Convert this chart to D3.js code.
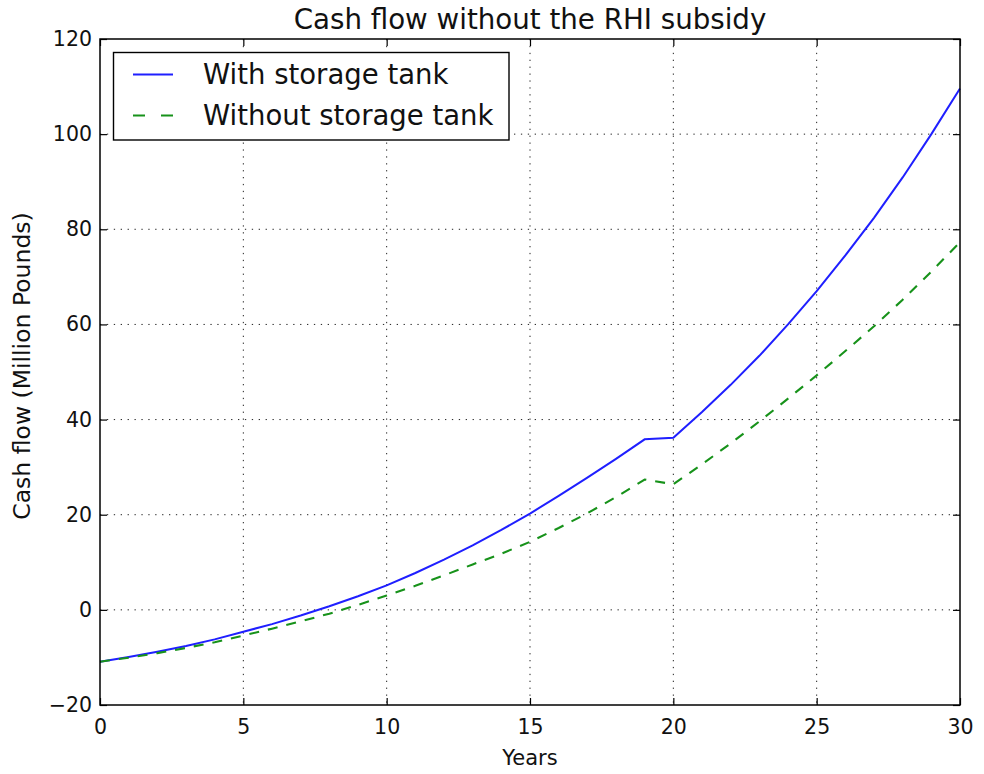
<!DOCTYPE html>
<html>
<head>
<meta charset="utf-8">
<script src="https://cdn.jsdelivr.net/npm/d3@7"></script>
<style>
  html, body { margin: 0; padding: 0; background: #fff; }
  svg { display: block; font-family: "DejaVu Sans", sans-serif; }
</style>
</head>
<body>
<svg id="chart" width="984" height="774"></svg>
<script>
// Cumulative cash flow over the project lifetime (million pounds)
const years = [0, 1, 2, 3, 4, 5, 6, 7, 8, 9, 10, 11, 12, 13, 14, 15,
               16, 17, 18, 19, 20, 21, 22, 23, 24, 25, 26, 27, 28, 29, 30];
const withTank = [-10.9, -9.9, -8.8, -7.6, -6.2, -4.6, -3.0, -1.2, 0.75, 2.85,
                  5.15, 7.75, 10.55, 13.55, 16.8, 20.25, 23.95, 27.8, 31.75, 35.85,
                  36.2, 41.6, 47.3, 53.4, 60.0, 67.0, 74.5, 82.4, 90.9, 100.0, 109.6];
const withoutTank = [-10.9, -10.05, -9.1, -8.0, -6.8, -5.4, -3.95, -2.4, -0.8, 1.05,
                     3.0, 5.05, 7.25, 9.55, 11.8, 14.3, 17.2, 20.3, 23.7, 27.4,
                     26.4, 30.6, 35.0, 39.6, 44.4, 49.3, 54.4, 59.6, 65.2, 71.1, 77.3];
const xTicks = [0, 5, 10, 15, 20, 25, 30];
const yTicks = [-20, 0, 20, 40, 60, 80, 100, 120];
const seriesNames = ["With storage tank", "Without storage tank"];

const svg = d3.select("#chart");
const m = { left: 100, right: 960, top: 39, bottom: 705 };

const x = d3.scaleLinear().domain([0, 30]).range([m.left, m.right]);
const y = d3.scaleLinear().domain([-20, 120]).range([m.bottom, m.top]);

// dotted grid
const grid = svg.append("g").attr("stroke", "#222").attr("stroke-width", 1)
  .attr("stroke-dasharray", "1.3,5.6");
grid.selectAll(".gx").data(xTicks.slice(1, -1)).join("line")
  .attr("x1", d => x(d)).attr("x2", d => x(d))
  .attr("y1", m.top).attr("y2", m.bottom);
grid.selectAll(".gy").data(yTicks.slice(1, -1)).join("line")
  .attr("x1", m.left).attr("x2", m.right)
  .attr("y1", d => y(d)).attr("y2", d => y(d));

// series lines
const blue = "#1f1fff", green = "#17921a";
const line = (vals) => d3.line().x((d, i) => x(years[i])).y(d => y(d))(vals);
svg.append("path").attr("d", line(withTank))
  .attr("fill", "none").attr("stroke", blue).attr("stroke-width", 2);
svg.append("path").attr("d", line(withoutTank))
  .attr("fill", "none").attr("stroke", green).attr("stroke-width", 2.1)
  .attr("stroke-dasharray", "10,9");

// axes with inward ticks on all four sides
const tickLen = 7;
const fmt = d3.format("d");
const axB = svg.append("g").attr("transform", `translate(0,${m.bottom})`)
  .call(d3.axisBottom(x).tickValues(xTicks).tickFormat(fmt).tickSizeInner(-tickLen).tickSizeOuter(0).tickPadding(14));
const axT = svg.append("g").attr("transform", `translate(0,${m.top})`)
  .call(d3.axisTop(x).tickValues(xTicks).tickFormat("").tickSizeInner(-tickLen).tickSizeOuter(0));
const axL = svg.append("g").attr("transform", `translate(${m.left},0)`)
  .call(d3.axisLeft(y).tickValues(yTicks).tickFormat(fmt).tickSizeInner(-tickLen).tickSizeOuter(0).tickPadding(8));
const axR = svg.append("g").attr("transform", `translate(${m.right},0)`)
  .call(d3.axisRight(y).tickValues(yTicks).tickFormat("").tickSizeInner(-tickLen).tickSizeOuter(0));
[axB, axT, axL, axR].forEach(a => {
  a.select(".domain").remove();
  a.selectAll(".tick line").attr("stroke", "#000").attr("stroke-width", 1.2);
  a.selectAll("text").attr("font-size", 20.5).attr("fill", "#111")
    .attr("font-family", "DejaVu Sans, sans-serif");
});
axB.selectAll("text").attr("dy", "0.71em");

// frame
svg.append("rect").attr("x", m.left).attr("y", m.top)
  .attr("width", m.right - m.left).attr("height", m.bottom - m.top)
  .attr("fill", "none").attr("stroke", "#000").attr("stroke-width", 1.5);

// title and axis labels
svg.append("text").attr("x", (m.left + m.right) / 2).attr("y", 29)
  .attr("text-anchor", "middle").attr("font-size", 27.7).attr("fill", "#111")
  .text("Cash flow without the RHI subsidy");
svg.append("text").attr("x", (m.left + m.right) / 2).attr("y", 765)
  .attr("text-anchor", "middle").attr("font-size", 21).attr("fill", "#111")
  .text("Years");
svg.append("text").attr("transform", `translate(30,${(m.top + m.bottom) / 2 - 6}) rotate(-90)`)
  .attr("text-anchor", "middle").attr("font-size", 23.5).attr("fill", "#111")
  .text("Cash flow (Million Pounds)");

// legend
const lg = svg.append("g");
lg.append("rect").attr("x", 113.5).attr("y", 52.5).attr("width", 395.5).attr("height", 87.5)
  .attr("fill", "#fff").attr("stroke", "#000").attr("stroke-width", 1.4);
const styles = [
  { color: blue, dash: null },
  { color: green, dash: "12,16" }
];
seriesNames.forEach((name, i) => {
  const cy = 74.5 + i * 41;
  lg.append("line").attr("x1", 133).attr("x2", 173).attr("y1", cy).attr("y2", cy)
    .attr("stroke", styles[i].color).attr("stroke-width", 2)
    .attr("stroke-dasharray", styles[i].dash);
  lg.append("text").attr("x", 203).attr("y", cy + 9.8)
    .attr("font-size", 27.5).attr("fill", "#111").text(name);
});
</script>
</body>
</html>
